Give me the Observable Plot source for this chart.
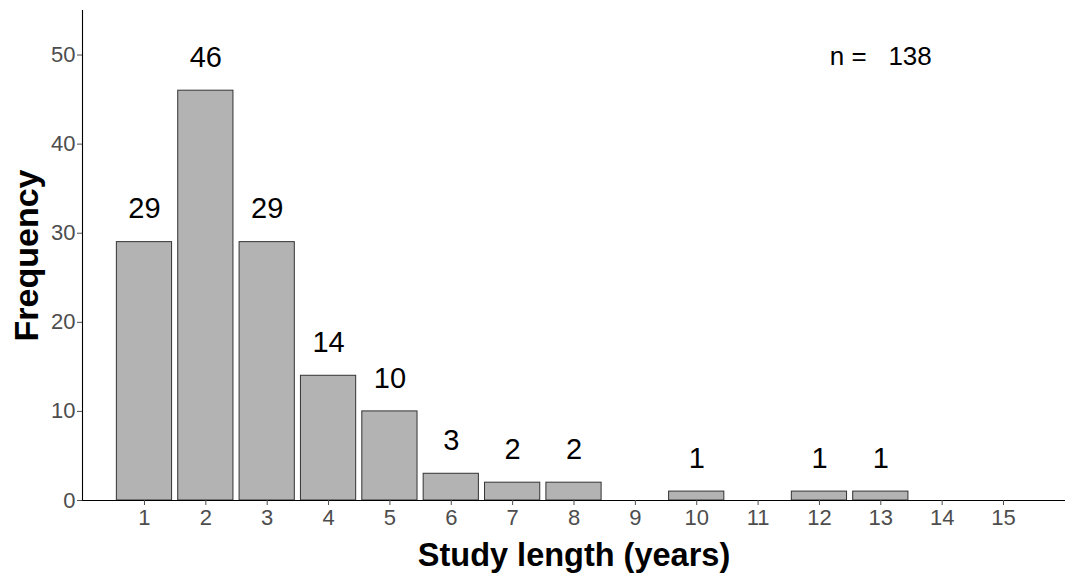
<!DOCTYPE html>
<html><head><meta charset="utf-8">
<script src="https://cdn.jsdelivr.net/npm/d3@7"></script>
<script src="https://cdn.jsdelivr.net/npm/@observablehq/plot@0.6"></script>
<style>body{margin:0;background:#fff} svg{display:block}</style>
</head><body><div id="chart"></div>
<script>
const years = [1,2,3,4,5,6,7,8,9,10,11,12,13,14,15];
const counts = [29,46,29,14,10,3,2,2,0,1,0,1,1,0,0];
const yTicks = [0,10,20,30,40,50];
const xTitle = "Study length (years)";
const yTitle = "Frequency";
const nText = "n =\u00a0\u00a0 138";
const nPos = {year: 13, value: 50};

const data = years.map((y, i) => ({year: y, count: counts[i]}));
const nonzero = data.filter(d => d.count > 0);

const chart = Plot.plot({
  width: 1065,
  height: 578,
  marginLeft: 82,
  marginRight: 0,
  marginTop: 10,
  marginBottom: 78,
  style: {fontFamily: "'Liberation Sans', Arial, sans-serif", background: "#fff"},
  x: {type: "band", domain: years, paddingInner: 0.1, paddingOuter: 0.56, round: false, axis: null},
  y: {domain: [0, 55], axis: null},
  marks: [
    Plot.barY(nonzero, {x: "year", y: "count", fill: "#b3b3b3", stroke: "#333", strokeWidth: 1}),
    Plot.ruleY([0], {stroke: "#000", strokeWidth: 1.1}),
    Plot.frame({anchor: "left", stroke: "#000", strokeWidth: 1.1}),
    Plot.axisY({ticks: yTicks, tickSize: 5, tickPadding: 2, fontSize: 22, color: "#4d4d4d", label: null}),
    Plot.axisX({tickSize: 5, tickPadding: 4, fontSize: 22, color: "#4d4d4d", label: null}),
    Plot.text(nonzero, {x: "year", y: "count", text: d => String(d.count), dy: -33, fontSize: 29, fill: "#000", lineAnchor: "middle"}),
    Plot.text([nPos], {x: "year", y: "value", text: () => nText, fontSize: 26, fill: "#000", lineAnchor: "middle", dy: 2}),
    Plot.text([xTitle], {frameAnchor: "bottom", dy: 55, text: d => d, fontSize: 32.5, fontWeight: "bold", fill: "#000", lineAnchor: "middle"}),
    Plot.text([yTitle], {frameAnchor: "left", textAnchor: "middle", dx: -55, text: d => d, rotate: -90, fontSize: 34, fontWeight: "bold", fill: "#000", lineAnchor: "middle"})
  ]
});
document.getElementById("chart").appendChild(chart);
</script>
</body></html>
